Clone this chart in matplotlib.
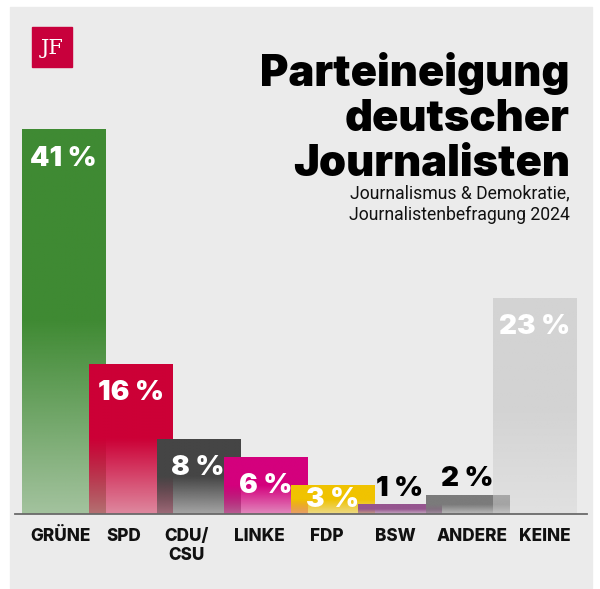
import numpy as np
import matplotlib.pyplot as plt
from matplotlib.colors import to_rgb
from matplotlib.patches import Rectangle

# data
parties = ["GRÜNE", "SPD", "CDU/\nCSU", "LINKE", "FDP", "BSW", "ANDERE", "KEINE"]
shares = [41, 16, 8, 6, 3, 1, 2, 23]
colors = ["#3f8a33", "#cc0036", "#454545", "#d4007d", "#f0c300", "#96558f", "#7b7b7b", "#d3d3d3"]

title_lines = ["Parteineigung", "deutscher", "Journalisten"]
subtitle_lines = ["Journalismus & Demokratie,", "Journalistenbefragung 2024"]

# small horizontal nudges for the category labels (axis units)
label_nudge = [-0.05, -0.1, -0.17, -0.09, -0.08, -0.07, 0.07, 0.16]

W, H = 600, 589
FONT = "Inter"

fig = plt.figure(figsize=(W / 100, H / 100), dpi=100)
fig.patch.set_facecolor("white")

def fx(px):
    return px / W

def fy(py):
    return 1 - py / H

# grey panel
fig.add_artist(Rectangle((fx(10), fy(588)), 582 / W, 581 / H,
                         transform=fig.transFigure, color="#ebebeb", zorder=0))

# axes placed so that the baseline sits at y=514 px
ax = fig.add_axes([fx(15), fy(514), 572 / W, 468.5 / H])
ax.patch.set_alpha(0)
for s in ["top", "right", "left"]:
    ax.spines[s].set_visible(False)
ax.spines["bottom"].set_color("#6a6a6a")
ax.spines["bottom"].set_linewidth(1.3)
ax.spines["bottom"].set_zorder(20)

width = 1.234
n = 200
t = np.linspace(0, 1, n)
alpha = np.clip(0.42 + 0.58 * t / 0.5, 0, 1)

for i, (v, c) in enumerate(zip(shares, colors)):
    img = np.zeros((n, 1, 4))
    img[:, 0, :3] = to_rgb(c)
    img[:, 0, 3] = alpha
    ax.imshow(img, extent=[i - width / 2, i + width / 2, 0, v], origin="lower",
              aspect="auto", interpolation="bilinear", zorder=2 + i)

    h_px = v * 468.5 / 50
    if v >= 3:
        off, col = -min(29, h_px / 2), "white"
    else:
        off, col = 16, "black"
    ax.annotate(f"{v} %", (i, v), xytext=(0, off), textcoords="offset pixels",
                ha="center", va="center", fontsize=20, fontweight=900,
                family=FONT, color=col, zorder=30)

ax.set_xlim(-0.721, 7.782)
ax.set_ylim(0, 50)
ax.set_yticks([])
ax.set_xticks(np.arange(len(parties)) + np.array(label_nudge))
ax.set_xticklabels(parties, fontsize=12.3, fontweight=800, family=FONT, color="#111111",
                   linespacing=1.2)
ax.tick_params(axis="x", length=0, pad=10)

# logo
fig.add_artist(Rectangle((fx(32), fy(67)), 40 / W, 40 / H,
                         transform=fig.transFigure, color="#c8003c", zorder=5))
fig.text(fx(52), fy(48), "JF", color="white", fontsize=15, family="DejaVu Serif",
         ha="center", va="center", zorder=6)

# title
for k, line in enumerate(title_lines):
    fig.text(fx(570), fy(86 + 45 * k), line, ha="right", va="baseline",
             fontsize=31.3, fontweight=900, family=FONT, color="black")
for k, line in enumerate(subtitle_lines):
    fig.text(fx(570), fy(198 + 22 * k), line, ha="right", va="baseline",
             fontsize=12.7, family="Roboto", color="#111111")

fig.savefig("out.png", dpi=100)
